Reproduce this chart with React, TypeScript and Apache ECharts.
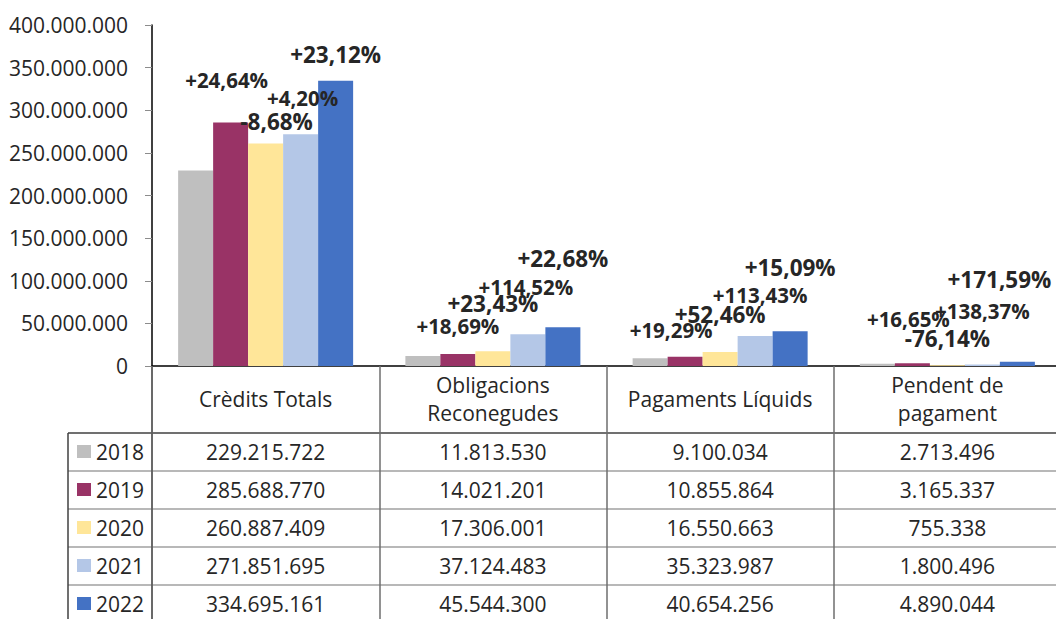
import React, { useEffect, useRef } from 'react';
import * as echarts from 'echarts';

const categories = ['Crèdits Totals', 'Obligacions\nReconegudes', 'Pagaments Líquids', 'Pendent de\npagament'];
const years = ['2018', '2019', '2020', '2021', '2022'];
const v2018 = [229215722, 11813530, 9100034, 2713496];
const v2019 = [285688770, 14021201, 10855864, 3165337];
const v2020 = [260887409, 17306001, 16550663, 755338];
const v2021 = [271851695, 37124483, 35323987, 1800496];
const v2022 = [334695161, 45544300, 40654256, 4890044];
const seriesValues = [v2018, v2019, v2020, v2021, v2022];
const yMin = 0;
const yMax = 400000000;
const yStep = 50000000;

// layout / style constants
const colors = ['#BFBFBF', '#993366', '#FFE699', '#B4C7E7', '#4472C4'];
const labelNudge: (number[][] | null)[] = [
  null,
  [[-4, -42], [0, -28], [-14, -27], [-4, -44]],
  [[11, -22], [0, -48], [0, -37], [0, -27]],
  [[2, -36], [-2, -47], [5, -41], [0, -53]],
  [[0, -26], [0, -69], [0, -64], [-18, -82]],
];
const labelSize = [0, 20.5, 22.5, 20.5, 22.5];
const FONT = '"Open Sans", "Noto Sans", sans-serif';
const TXT = '#262626';

const fmt = (n: number) => String(n).replace(/\B(?=(\d{3})+(?!\d))/g, '.');
const pct = (cur: number, prev: number) => {
  const p = (cur / prev - 1) * 100;
  return (p >= 0 ? '+' : '') + p.toFixed(2).replace('.', ',') + '%';
};

export default function App() {
  const ref = useRef<HTMLDivElement>(null);
  useEffect(() => {
    if (!ref.current) return;
    const chart = echarts.init(ref.current, null, { renderer: 'svg' });
    const series = seriesValues.map((vals, s) => ({
      name: years[s],
      type: 'bar',
      barWidth: 35,
      barGap: '0%',
      itemStyle: { color: colors[s] },
      data: vals.map((v, c) => {
        const nudge = labelNudge[s];
        return {
          value: v,
          label: nudge
            ? {
                show: true,
                position: 'top',
                distance: 0,
                verticalAlign: 'middle',
                offset: nudge[c],
                formatter: () => pct(v, seriesValues[s - 1][c]),
                fontFamily: FONT,
                fontWeight: 'bold',
                fontSize: labelSize[s],
                color: TXT,
              }
            : { show: false },
        };
      }),
    }));
    chart.setOption({
      animation: false,
      grid: { left: 152, top: 25, width: 909, height: 341, outerBoundsMode: 'none', containLabel: false },
      xAxis: {
        type: 'category',
        data: categories,
        axisLine: { lineStyle: { color: '#000', width: 1.5 } },
        axisTick: { show: true, inside: false, length: 253, lineStyle: { color: '#6e6e6e', width: 1.5 } },
        axisLabel: {
          margin: 33,
          verticalAlign: 'middle',
          lineHeight: 28,
          fontSize: 21,
          fontFamily: FONT,
          color: TXT,
          interval: 0,
        },
      },
      yAxis: {
        type: 'value',
        min: yMin,
        max: yMax,
        interval: yStep,
        splitLine: { show: false },
        axisLine: { show: true, lineStyle: { color: '#000', width: 1.5 } },
        axisTick: { show: true, length: 7, lineStyle: { color: '#8c8c8c' } },
        axisLabel: { margin: 24, fontSize: 21, fontFamily: FONT, color: TXT, formatter: (v: number) => fmt(v) },
      },
      series,
    });

    const cx = categories.map((_, i) => chart.convertToPixel({ xAxisIndex: 0 }, i) as number);
    const band = cx[1] - cx[0];
    const left = cx[0] - band / 2;
    const y0 = chart.convertToPixel({ yAxisIndex: 0 }, 0) as number;
    const headerBottom = y0 + 67;
    const rowH = 38;
    const tableLeft = 68;
    const W = 1056;
    const H = 619;
    const g: any[] = [];
    years.forEach((_, r) => {
      const yl = headerBottom + r * rowH;
      g.push({
        type: 'line',
        shape: { x1: tableLeft, y1: yl, x2: W, y2: yl },
        style: { stroke: r === 0 ? '#404040' : '#a0a0a0', lineWidth: 1.5 },
      });
    });
    g.push({ type: 'line', shape: { x1: tableLeft, y1: headerBottom, x2: tableLeft, y2: H }, style: { stroke: '#404040', lineWidth: 1.5 } });
    g.push({ type: 'line', shape: { x1: left, y1: y0, x2: left, y2: H }, style: { stroke: '#262626', lineWidth: 1.5 } });
    years.forEach((yr, r) => {
      const yc = headerBottom + r * rowH + rowH / 2;
      g.push({ type: 'rect', shape: { x: 77, y: yc - 7, width: 14, height: 13 }, style: { fill: colors[r] } });
      g.push({
        type: 'text',
        x: 96,
        y: yc,
        style: { text: yr, fontSize: 21, fontFamily: FONT, fill: TXT, align: 'left', verticalAlign: 'middle' },
      });
      seriesValues[r].forEach((v, c) => {
        g.push({
          type: 'text',
          x: cx[c],
          y: yc,
          style: { text: fmt(v), fontSize: 21, fontFamily: FONT, fill: TXT, align: 'center', verticalAlign: 'middle' },
        });
      });
    });
    chart.setOption({ graphic: g });
    return () => chart.dispose();
  }, []);
  return <div ref={ref} style={{ position: 'fixed', left: 0, top: 0, width: 1056, height: 619, background: '#fff' }} />;
}
